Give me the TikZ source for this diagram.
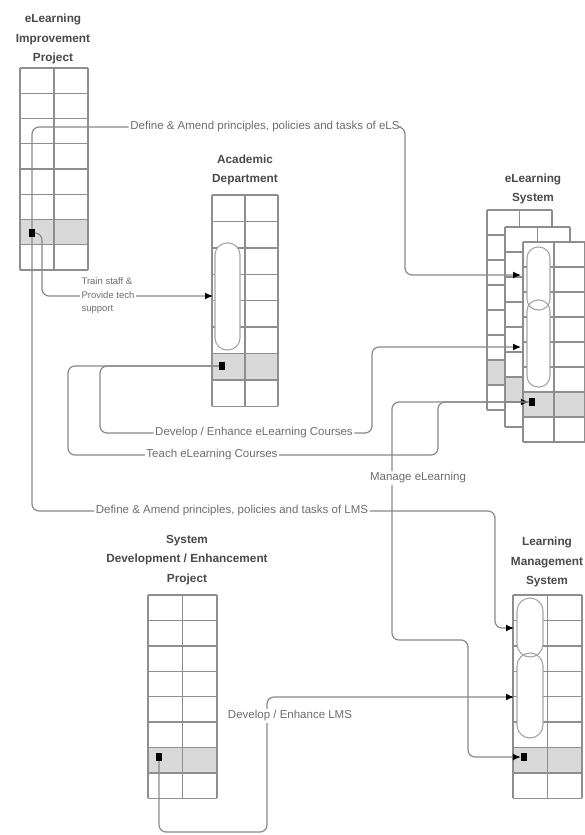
\documentclass[tikz,border=0pt]{standalone}
\usepackage{fontspec}
\setmainfont{Liberation Sans}
\usetikzlibrary{arrows.meta}
\definecolor{gridline}{HTML}{8E8E8E}
\definecolor{rowfill}{HTML}{D9D9D9}
\definecolor{msgline}{HTML}{8A8A8A}
\definecolor{capline}{HTML}{A6A6A6}
\definecolor{titletext}{HTML}{4A4A4A}
\definecolor{msgtext}{HTML}{6E6E6E}

% one lifeline block: left x, top y, width, row height
\newcommand{\lanegrid}[4]{%
  \fill[white] (#1,#2) rectangle (#1+#3,#2+8*#4);
  \fill[rowfill] (#1,#2+6*#4) rectangle (#1+#3,#2+7*#4);
  \foreach \r in {0,...,8} \draw[gridrule] (#1,#2+\r*#4) -- (#1+#3,#2+\r*#4);
  \foreach \c in {0,0.5,1} \draw[gridrule] (#1+\c*#3,#2) -- (#1+\c*#3,#2+8*#4);
}

\begin{document}
\begin{tikzpicture}[x=1pt, y=-1pt,
    gridrule/.style={draw=gridline, line width=1.4pt},
    capsule/.style={draw=capline, line width=1.1pt},
    dot/.style={fill=black, minimum width=6pt, minimum height=8pt, inner sep=0pt},
    msg/.style={draw=msgline, line width=1.2pt, rounded corners=7pt},
    arr/.style={-{Latex[length=8pt, width=7pt, color=black]}},
    title/.style={align=center, text=titletext, font=\bfseries\fontsize{11.8}{19.5}\selectfont},
    msglabel/.style={fill=white, inner sep=1.5pt, text=msgtext, font=\fontsize{11.5}{13}\selectfont}]
  \useasboundingbox[fill=white] (0,0) rectangle (585,835);

  % Lifeline blocks
  \lanegrid{20}{68}{68}{25.25}
  \lanegrid{212}{195}{66}{26.4}
  \lanegrid{487}{210}{65}{25}
  \lanegrid{505}{227}{65}{25}
  \lanegrid{523}{242}{62}{25}
  \lanegrid{148}{595}{69}{25.4}
  \lanegrid{513}{595}{69}{25.4}

  % Activation capsules
  \fill[white, rounded corners=12pt] (215,243) rectangle (240,350);
  \draw[capsule, rounded corners=12pt] (215,243) rectangle (240,350);
  \fill[white, rounded corners=11pt] (527,247) rectangle (550,310) (527,300) rectangle (550,387);
  \draw[capsule, rounded corners=11pt] (527,247) rectangle (550,310) (527,300) rectangle (550,387);
  \fill[white, rounded corners=13pt] (517,598) rectangle (543,657) (517,653) rectangle (543,738);
  \draw[capsule, rounded corners=13pt] (517,598) rectangle (543,657) (517,653) rectangle (543,738);

  % Titles
  \node[title] (eiptitle) at (53,39) {eLearning\\Improvement\\Project};
  \node[title] (adtitle) at (245,170) {Academic\\Department};
  \node[title] (elstitle) at (533,189) {eLearning\\System};
  \node[title] (sdtitle) at (187,560) {System\\Development / Enhancement\\Project};
  \node[title] (lmstitle) at (547,562) {Learning\\Management\\System};

  % Dots
  \node[dot] (eipdot) at (32,233) {};
  \node[dot] (addot) at (222,366) {};
  \node[dot] (elsdot) at (532,402) {};
  \node[dot] (sddot) at (159,757) {};
  \node[dot] (lmsdot) at (524,757) {};

  % Bends and entry points
  \coordinate (elsjog) at (405,275);
  \coordinate (elsin1) at (521,275);
  \coordinate (elsin2) at (521,347);
  \coordinate (adin1) at (213,296);
  \coordinate (trainjog) at (42,296);
  \coordinate (devjogA) at (100,433);
  \coordinate (devjogB) at (372,433);
  \coordinate (teachjogA) at (68,455);
  \coordinate (teachjogB) at (438,455);
  \coordinate (mgjogA) at (392,640);
  \coordinate (mgjogB) at (468,757);
  \coordinate (lmsjog) at (495,628);
  \coordinate (lmsin1) at (514,628);
  \coordinate (lmsin2) at (514,697);
  \coordinate (sdjog) at (267,832);

  % Labels on the messages
  \node[msglabel] (defels) at (265,127) {Define \& Amend principles, policies and tasks of eLS};
  \node[msglabel] (deflms) at (232,511) {Define \& Amend principles, policies and tasks of LMS};
  \node[msglabel, align=left, font=\fontsize{9.5}{13.5}\selectfont] (train) at (108,296) {Train staff \&\\Provide tech\\support};
  \node[msglabel] (devcourse) at (254,433) {Develop / Enhance eLearning Courses};
  \node[msglabel] (teach) at (212,455) {Teach eLearning Courses};

  % Messages
  \draw[msg, arr] (eipdot) |- (defels) -| (elsjog) -- (elsin1);
  \draw[msg, arr] (eipdot) |- (deflms) -| (lmsjog) -- (lmsin1);
  \draw[msg, arr] (eipdot) -| (trainjog) -- (train) -- (adin1);
  \draw[msg, arr] (addot) -| (devjogA) -- (devcourse) -- (devjogB) |- (elsin2);
  \draw[msg, arr] (addot) -| (teachjogA) -- (teach) -- (teachjogB) |- (elsdot);
  \draw[msg, arr] (elsdot) -| (mgjogA) -| (mgjogB) -- (lmsdot);
  \draw[msg, arr] (sddot) |- (sdjog) |- (lmsin2);

  \node[msglabel] (manage) at (418,478) {Manage eLearning};
  \node[msglabel] (devlms) at (290,716) {Develop / Enhance LMS};
\end{tikzpicture}
\end{document}
